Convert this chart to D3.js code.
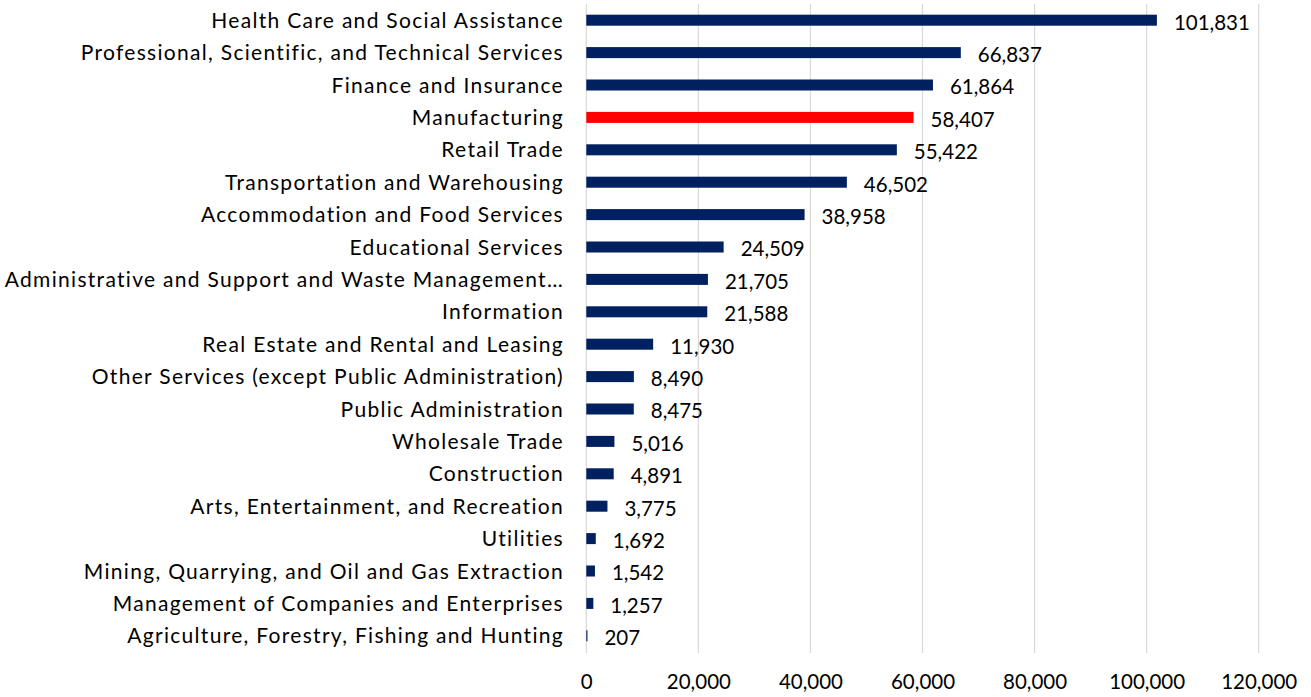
<!DOCTYPE html>
<html>
<head>
<meta charset="utf-8">
<script src="https://cdn.jsdelivr.net/npm/d3@7"></script>
<style>
  html, body { margin: 0; padding: 0; background: #ffffff; }
  svg { display: block; }
  text { font-family: Lato, "Open Sans", sans-serif; fill: #000; }
</style>
</head>
<body>
<svg id="chart" width="1311" height="697"></svg>
<script>
// Employment by industry sector
const industries = [
  "Health Care and Social Assistance",
  "Professional, Scientific, and Technical Services",
  "Finance and Insurance",
  "Manufacturing",
  "Retail Trade",
  "Transportation and Warehousing",
  "Accommodation and Food Services",
  "Educational Services",
  "Administrative and Support and Waste Management…",
  "Information",
  "Real Estate and Rental and Leasing",
  "Other Services (except Public Administration)",
  "Public Administration",
  "Wholesale Trade",
  "Construction",
  "Arts, Entertainment, and Recreation",
  "Utilities",
  "Mining, Quarrying, and Oil and Gas Extraction",
  "Management of Companies and Enterprises",
  "Agriculture, Forestry, Fishing and Hunting"
];
const employment = [
  101831, 66837, 61864, 58407, 55422, 46502, 38958, 24509, 21705, 21588,
  11930, 8490, 8475, 5016, 4891, 3775, 1692, 1542, 1257, 207
];
const highlighted = ["Manufacturing"];
const xTicks = [0, 20000, 40000, 60000, 80000, 100000, 120000];

const svg = d3.select("#chart");
const plotLeft = 586.3, plotRight = 1258.7, plotTop = 4, plotBottom = 652;

const x = d3.scaleLinear().domain([0, 120000]).range([plotLeft, plotRight]);
const y = d3.scaleBand().domain(industries).range([plotTop, plotBottom]).paddingInner(0.66).paddingOuter(0.33);

const fmt = d3.format(",");
const data = industries.map((name, i) => ({ name, value: employment[i] }));

// vertical gridlines
svg.append("g")
  .selectAll("line")
  .data(xTicks)
  .join("line")
  .attr("x1", d => x(d)).attr("x2", d => x(d))
  .attr("y1", plotTop).attr("y2", plotBottom + 1)
  .attr("stroke", "#d9d9d9")
  .attr("stroke-width", 1.2);

// x axis tick labels
const xAxis = d3.axisBottom(x).tickValues(xTicks).tickFormat(fmt).tickSize(0).tickPadding(0);
const gx = svg.append("g").attr("transform", `translate(0,${plotBottom + 37})`).call(xAxis);
gx.select(".domain").remove();
gx.selectAll("text")
  .attr("dy", 0)
  .attr("y", 0)
  .style("font-family", "Lato, sans-serif")
  .style("font-size", "20.5px")
  .attr("fill", "#000");

// category labels
const yAxis = d3.axisLeft(y).tickSize(0).tickPadding(0);
const gy = svg.append("g").attr("transform", `translate(${plotLeft - 22.3},0)`).call(yAxis);
gy.select(".domain").remove();
gy.selectAll("text")
  .attr("dy", "0.36em")
  .style("font-family", "Lato, sans-serif")
  .style("font-size", "21px")
  .style("letter-spacing", "1.3px")
  .attr("fill", "#000");

// bars
svg.append("g")
  .selectAll("rect")
  .data(data)
  .join("rect")
  .attr("x", x(0))
  .attr("y", d => y(d.name))
  .attr("width", d => Math.max(0, x(d.value) - x(0)))
  .attr("height", y.bandwidth())
  .attr("fill", d => highlighted.includes(d.name) ? "#ff0000" : "#002060");

// value labels
svg.append("g")
  .selectAll("text")
  .data(data)
  .join("text")
  .attr("x", d => x(d.value) + 17)
  .attr("y", d => y(d.name) + y.bandwidth() / 2 + 2)
  .attr("dy", "0.36em")
  .style("font-size", "20.5px")
  .text(d => fmt(d.value));
</script>
</body>
</html>
